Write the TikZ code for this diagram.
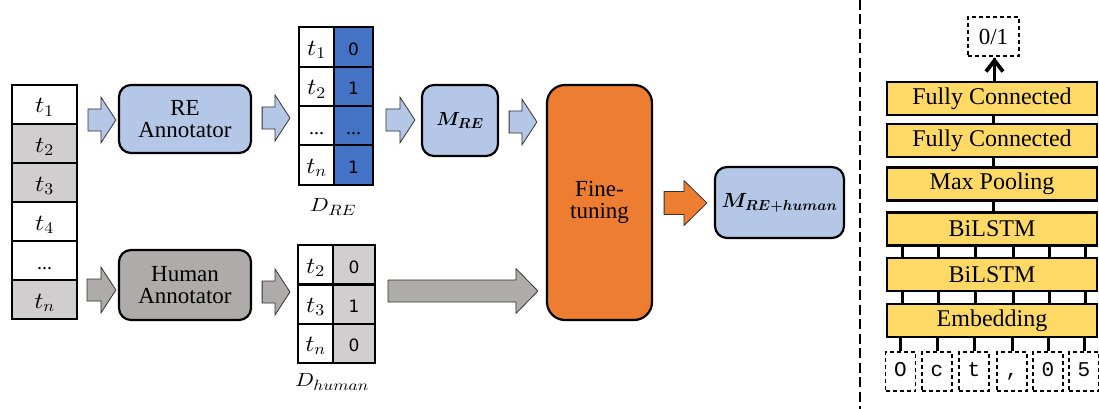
\documentclass[tikz,border=0pt]{standalone}
\usepackage{amsmath,bm}
\usepackage{fontspec}
\setmainfont{Liberation Serif}
\newfontfamily\digitfont{DejaVu Sans}
\newfontfamily\charfont{Liberation Mono}
\usetikzlibrary{calc,arrows.meta}

% math italic at any size
\DeclareFontShape{OML}{cmm}{m}{it}{<-> cmmi10}{}
\DeclareFontShape{OML}{cmm}{b}{it}{<-> cmmib10}{}
\DeclareFontShape{OT1}{cmr}{m}{n}{<-> cmr10}{}
\DeclareFontShape{OMS}{cmsy}{m}{n}{<-> cmsy10}{}
\DeclareFontShape{OMS}{cmsy}{b}{n}{<-> cmbsy10}{}

\definecolor{reblue}{HTML}{B4C7E7}
\definecolor{deepblue}{HTML}{4472C4}
\definecolor{humgray}{HTML}{AFABAB}
\definecolor{lightgray}{HTML}{D0CECE}
\definecolor{tuneorange}{HTML}{ED7D31}
\definecolor{layeryellow}{HTML}{FFD966}

% symbols whose subscripts are set larger than TeX's default script size
\newcommand{\tok}[1]{\scalebox{1.15}[1.05]{$t_{\text{\fontsize{15.5}{17}\selectfont$#1$}}$}}
\newcommand{\dset}[1]{\scalebox{1.2}[1.03]{$D_{\text{\fontsize{14.5}{16}\selectfont$#1$}}$}}
\newcommand{\model}[2]{$\bm{M}_{\text{\fontsize{#2}{#2}\selectfont$\bm{#1}$}}$}

\tikzset{
  cell/.style={draw, line width=2pt, minimum width=65pt, minimum height=39pt, inner sep=0pt,
    text height=17pt, text depth=0pt, font=\fontsize{22}{24}\selectfont},
  tcell/.style={draw, line width=2pt, minimum width=35pt, minimum height=39.5pt, inner sep=0pt,
    text height=17pt, text depth=0pt, font=\fontsize{22}{24}\selectfont},
  vcell/.style={draw, line width=2pt, minimum width=39pt, minimum height=39.5pt, inner sep=0pt,
    text height=17pt, text depth=0pt, font=\digitfont\fontsize{17}{19}\selectfont},
  roundbox/.style={draw, line width=2.2pt, rounded corners=12pt, inner sep=0pt, align=center,
    font=\fontsize{23}{25}\selectfont},
  layer/.style={draw, line width=2.5pt, fill=layeryellow, minimum width=210pt, minimum height=33pt,
    inner sep=0pt, font=\fontsize{24}{26}\selectfont},
  charbox/.style={draw, dashed, dash pattern=on 4pt off 3pt, line width=1.1pt, minimum width=30pt,
    minimum height=39pt, inner sep=0pt, text height=12.5pt, text depth=2pt,
    font=\charfont\fontsize{21}{23}\selectfont},
  link/.style={line width=3pt},
  arrowline/.style={draw=black!80, line width=0.8pt},
}

% block arrow: style, start point, end point (only its x is used), shaft half, head half, head length
\newcommand{\blockarrow}[6]{%
  \draw[arrowline,#1] let \p1=#2, \p2=#3 in
    (\x1,{\y1+#4}) -- ({\x2-#6},{\y1+#4}) -- ({\x2-#6},{\y1+#5}) -- (\x2,\y1)
    -- ({\x2-#6},{\y1-#5}) -- ({\x2-#6},{\y1-#4}) -- (\x1,{\y1-#4}) -- cycle;}

\begin{document}
\begin{tikzpicture}[x=1pt,y=-1pt]
\useasboundingbox (0,0) rectangle (1099,409);

% token list
\node[cell, fill=white]      (l1) at (44.5,104.5) {\tok{1}};
\node[cell, fill=lightgray]  (l2) at (44.5,143.5) {\tok{2}};
\node[cell, fill=lightgray]  (l3) at (44.5,182.5) {\tok{3}};
\node[cell, fill=white]      (l4) at (44.5,221.5) {\tok{4}};
\node[cell, fill=white, font=\fontsize{20}{22}\selectfont] (l5) at (44.5,260.5) {...};
\node[cell, fill=lightgray]  (l6) at (44.5,299.5) {\tok{n}};

% annotators
\node[roundbox, fill=reblue, minimum width=132pt, minimum height=68pt] (reann) at (185,119) {RE\\[-3pt]Annotator};
\node[roundbox, fill=humgray, minimum width=132pt, minimum height=70pt] (humann) at (185,285) {Human\\[-3pt]Annotator};

% D_RE table
\node[tcell, fill=white]     (r1) at (316.5,47)    {\tok{1}};
\node[tcell, fill=white]     (r2) at (316.5,86.5)  {\tok{2}};
\node[tcell, fill=white, font=\fontsize{20}{22}\selectfont] (r3) at (316.5,125.5) {...};
\node[tcell, fill=white]     (r4) at (316.5,165)   {\tok{n}};
\node[vcell, fill=deepblue]  (v1) at (353.5,47)    {0};
\node[vcell, fill=deepblue]  (v2) at (353.5,86.5)  {1};
\node[vcell, fill=deepblue, font=\fontsize{20}{22}\selectfont] (v3) at (353.5,125.5) {...};
\node[vcell, fill=deepblue]  (v4) at (353.5,165)   {1};
\node[font=\fontsize{18.5}{20}\selectfont] (dre) at (333,207) {\dset{RE}};

% D_human table
\node[tcell, fill=white, minimum height=39pt]     (h1) at (315.5,264.5) {\tok{2}};
\node[tcell, fill=white, minimum height=39pt]     (h2) at (315.5,304)   {\tok{3}};
\node[tcell, fill=white, minimum height=39pt]     (h3) at (315.5,343)   {\tok{n}};
\node[vcell, fill=lightgray, minimum width=42pt, minimum height=39pt] (g1) at (354,264.5) {0};
\node[vcell, fill=lightgray, minimum width=42pt, minimum height=39pt] (g2) at (354,304)   {1};
\node[vcell, fill=lightgray, minimum width=42pt, minimum height=39pt] (g3) at (354,343)   {0};
\node[font=\fontsize{18.5}{20}\selectfont] (dhum) at (332,382) {\dset{human}};

% models and fine-tuning
\node[roundbox, fill=reblue, minimum width=76pt, minimum height=71pt] (mre) at (460,120.5)
  {\fontsize{19}{21}\selectfont\model{RE}{14.5}};
\node[roundbox, fill=tuneorange, minimum width=105pt, minimum height=235pt, rounded corners=18pt] (fine) at (599.5,202.5)
  {Fine-\\[-3pt]tuning};
\node[roundbox, fill=reblue, minimum width=129pt, minimum height=71pt] (mfin) at (779.5,202.5)
  {\fontsize{20.5}{23}\selectfont\model{RE{+}human}{14.5}};

% block arrows
\blockarrow{fill=reblue}{($(l1.east)+(10,15.5)$)}{($(reann.west)+(-2,0)$)}{11pt}{23pt}{15pt}
\blockarrow{fill=reblue}{($(reann.east)+(10,-1)$)}{($(r1.west)+(-8,0)$)}{11pt}{23pt}{15pt}
\blockarrow{fill=reblue}{($(v3.east)+(12,-5.5)$)}{($(mre.west)+(-6,0)$)}{11pt}{23pt}{15pt}
\blockarrow{fill=reblue}{($(mre.east)+(10,1.5)$)}{($(fine.west)+(-9,0)$)}{11pt}{23pt}{15pt}
\blockarrow{fill=humgray}{($(l6.east)+(9,-9.5)$)}{($(humann.west)+(-2,0)$)}{11pt}{23pt}{15pt}
\blockarrow{fill=humgray}{($(humann.east)+(10,7)$)}{($(h1.west)+(-7,0)$)}{11pt}{23pt}{15pt}
\blockarrow{fill=humgray}{($(g2.east)+(12,-13)$)}{($(fine.west)+(-8,0)$)}{11pt}{22.5pt}{22pt}
\blockarrow{fill=tuneorange}{($(fine.east)+(11,0.5)$)}{($(mfin.west)+(-7,0)$)}{11.5pt}{22.5pt}{23pt}

% separator
\coordinate (septop) at (860,0);
\coordinate (sepbot) at (860,409);
\draw[line width=2.6pt, dash pattern=on 10pt off 4.5pt] (septop) -- (sepbot);

% network layers
\node[layer] (fc1) at (992,98.5)  {Fully Connected};
\node[layer] (fc2) at (992,140.5) {Fully Connected};
\node[layer] (mp)  at (992,184)   {Max Pooling};
\node[layer] (bl1) at (992,229)   {BiLSTM};
\node[layer] (bl2) at (992,274.5) {BiLSTM};
\node[layer] (emb) at (992,320.5) {Embedding};
\node[draw, dashed, dash pattern=on 4pt off 3pt, line width=1.1pt, minimum width=51pt, minimum height=39pt,
  inner sep=0pt, font=\fontsize{23}{25}\selectfont] (out) at (993.5,36.5) {0/1};

% input characters
\foreach \ch/\cx [count=\i] in {O/900.5, c/937, t/974, {,}/1012, 0/1048, 5/1084}
  \node[charbox] (c\i) at (\cx,371.5) {\ch};

% layer connections
\coordinate (tip) at ($(out.south)+(1,1.5)$);
\draw[link] (fc1.north -| tip) -- (tip);
\draw[line width=3.8pt, line join=miter] ($(tip)+(-8.5,13.5)$) -- ($(tip)+(0,2.5)$) -- ($(tip)+(8.5,13.5)$);
\draw[link] (fc2.north -| out) -- (fc1.south -| out);
\draw[link] (mp.north -| out) -- (fc2.south -| out);
\draw[link] (bl1.north -| out) -- (mp.south -| out);
\foreach \i in {1,...,6} {
  \draw[link] ($(c\i |- bl2.north)+(1.5,0)$) -- ($(c\i |- bl1.south)+(1.5,0)$);
  \draw[link] ($(c\i |- emb.north)+(1.5,0)$) -- ($(c\i |- bl2.south)+(1.5,0)$);
  \draw[link] (c\i.north) -- (c\i |- emb.south);
}
\end{tikzpicture}
\end{document}
